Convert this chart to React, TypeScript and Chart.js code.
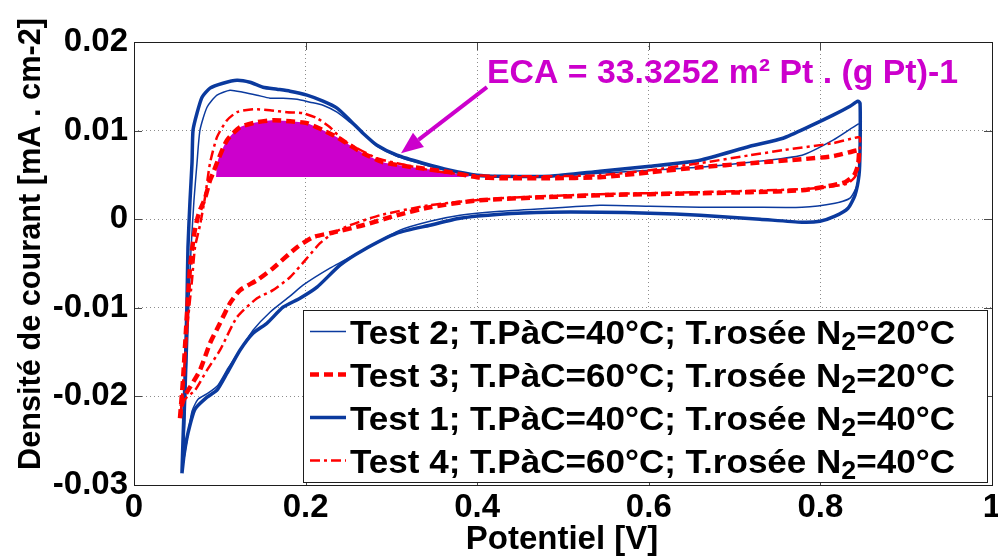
import React, { useEffect, useRef } from 'react';
import { Chart, registerables } from 'chart.js';

Chart.register(...registerables);

// ---------- data (Potentiel [V], Densité de courant [mA . cm-2]) ----------
const xTicks = [0, 0.2, 0.4, 0.6, 0.8, 1];
const yTicks = [-0.03, -0.02, -0.01, 0, 0.01, 0.02];

// Test 1 (thick blue) closed loop: anodic sweep then cathodic sweep
const test1X = [
  0.0559, 0.0571, 0.0594, 0.0618, 0.0629, 0.0653, 0.0676, 0.0688, 0.0734, 0.0793, 0.0886, 0.1037, 0.12, 0.1352,
  0.1503, 0.1667, 0.1818, 0.2016, 0.2203, 0.2366, 0.2517, 0.2669, 0.2832, 0.3065, 0.3368, 0.3683, 0.3998, 0.4266,
  0.4848, 0.5431, 0.6014, 0.6597, 0.7179, 0.7564, 0.7879, 0.8147, 0.8345, 0.8438,
  0.8462, 0.8462, 0.845, 0.8403, 0.8322, 0.817, 0.7995, 0.7786, 0.7296, 0.6597, 0.6014, 0.5431, 0.4848, 0.4266,
  0.38, 0.345, 0.3065, 0.2669, 0.2401, 0.2133, 0.1935, 0.1737, 0.155, 0.1387, 0.1235, 0.1084, 0.0967, 0.0851,
  0.0711, 0.0629, 0.0583, 0.0559,
];
const test1Y = [
  -0.02867, -0.02494, -0.01817, -0.00914, -0.00316, 0.00214, 0.00632, 0.01005, 0.01196, 0.01377, 0.01479, 0.01535,
  0.01569, 0.01546, 0.0149, 0.01467, 0.01445, 0.014, 0.01332, 0.01253, 0.01117, 0.00971, 0.00835, 0.00722, 0.00632,
  0.00553, 0.00497, 0.00485, 0.00485, 0.00542, 0.00598, 0.00666, 0.00824, 0.00914, 0.0105, 0.01174, 0.01275, 0.01332,
  0.01309, 0.00779, 0.00497, 0.00271, 0.00124, 0.00034, -0.00023, -0.00034, 0, 0.00045, 0.00068, 0.00079, 0.00079,
  0.00056, 0.00011, -0.00068, -0.00158, -0.0035, -0.00519, -0.00767, -0.00892, -0.00993, -0.01174, -0.01287,
  -0.01479, -0.01738, -0.0193, -0.02009, -0.02144, -0.02415, -0.02664, -0.02867,
];

// Test 2 (thin blue)
const test2X = [
  0.0571, 0.0594, 0.0618, 0.0641, 0.0664, 0.0699, 0.0734, 0.0769, 0.0851, 0.0967, 0.1119, 0.127, 0.1434, 0.1585,
  0.1737, 0.19, 0.2051, 0.2203, 0.2366, 0.2517, 0.2669, 0.2832, 0.3065, 0.3368, 0.3683, 0.3998, 0.4266, 0.4848,
  0.5431, 0.6014, 0.6597, 0.7179, 0.7786, 0.8147, 0.8438,
  0.8462, 0.8462, 0.8427, 0.8345, 0.817, 0.7786, 0.7179, 0.6597, 0.6014, 0.5431, 0.4848, 0.4266, 0.38, 0.345,
  0.31, 0.2669, 0.2284, 0.197, 0.1818, 0.1585, 0.1387, 0.1235, 0.1096, 0.0979, 0.0862, 0.0746, 0.0676, 0.0618,
  0.0571,
];
const test2Y = [
  -0.02777, -0.02269, -0.01591, -0.00914, -0.0035, 0.00214, 0.00632, 0.01005, 0.01264, 0.014, 0.01456, 0.01433,
  0.014, 0.01366, 0.01366, 0.01354, 0.01321, 0.01287, 0.01208, 0.01095, 0.00971, 0.00824, 0.00711, 0.00621,
  0.00542, 0.00497, 0.00485, 0.00485, 0.00519, 0.00553, 0.00587, 0.00643, 0.00722, 0.00892, 0.01072,
  0.01072, 0.00666, 0.00384, 0.00237, 0.00181, 0.00135, 0.00135, 0.00135, 0.00147, 0.00158, 0.00124, 0.0009,
  0.00045, -0.00023, -0.00124, -0.0035, -0.00553, -0.00745, -0.00869, -0.0105, -0.01253, -0.01479, -0.01682,
  -0.01874, -0.01964, -0.02032, -0.02167, -0.02494, -0.02777,
];

// Test 3 (thick red dashed)
const test3X = [
  0.0536, 0.0571, 0.0606, 0.0653, 0.0699, 0.0734, 0.0769, 0.0828, 0.0886, 0.0921, 0.0979, 0.1084, 0.1235, 0.1434,
  0.162, 0.1818, 0.2016, 0.2203, 0.2366, 0.2517, 0.2669, 0.2902, 0.3252, 0.3683, 0.3998, 0.4266, 0.4848, 0.5431,
  0.6014, 0.6597, 0.7179, 0.7786, 0.8147, 0.8438,
  0.845, 0.8438, 0.8392, 0.8287, 0.8147, 0.7786, 0.7179, 0.6597, 0.5431, 0.4033, 0.345, 0.3065, 0.2669, 0.2284,
  0.2086, 0.19, 0.162, 0.1434, 0.1235, 0.1119, 0.1002, 0.0886, 0.0769, 0.0653, 0.0571, 0.0536,
];
const test3Y = [
  -0.02246, -0.01817, -0.01253, -0.00542, -0.00181, -0.00011, 0.00102, 0.00237, 0.0044, 0.00519, 0.00666, 0.00892,
  0.01038, 0.01095, 0.01117, 0.01106, 0.01084, 0.01005, 0.00926, 0.00835, 0.00745, 0.00643, 0.00587, 0.0053,
  0.00474, 0.00463, 0.00463, 0.00474, 0.0053, 0.00587, 0.00632, 0.00677, 0.00711, 0.00779,
  0.00756, 0.00609, 0.00497, 0.00418, 0.00384, 0.00327, 0.00305, 0.00293, 0.00271, 0.00214, 0.00135, 0.00045,
  -0.00068, -0.00158, -0.00203, -0.00316, -0.00553, -0.00688, -0.00801, -0.00948, -0.01174, -0.014, -0.01704,
  -0.01896, -0.02032, -0.02246,
];

// Test 4 (red dash-dot)
const test4X = [
  0.0548, 0.0583, 0.0629, 0.0676, 0.0711, 0.0769, 0.0828, 0.0886, 0.0967, 0.1084, 0.12, 0.1387, 0.1585, 0.1783,
  0.197, 0.2133, 0.2284, 0.2436, 0.2599, 0.2832, 0.3065, 0.345, 0.38, 0.4266, 0.4848, 0.5431, 0.6014, 0.6597,
  0.7179, 0.7564, 0.8147, 0.8438,
  0.8462, 0.845, 0.8415, 0.8322, 0.8147, 0.7786, 0.6597, 0.5431, 0.4266, 0.345, 0.2867, 0.2517, 0.2319, 0.2168,
  0.2016, 0.1818, 0.162, 0.1434, 0.12, 0.1002, 0.0851, 0.0711, 0.0594, 0.0548,
];
const test4Y = [
  -0.02156, -0.01704, -0.0114, -0.00688, -0.00316, -0.00068, 0.00248, 0.00632, 0.00926, 0.01117, 0.01208, 0.01242,
  0.0123, 0.01208, 0.01196, 0.0114, 0.01038, 0.00892, 0.00801, 0.00688, 0.00632, 0.00553, 0.00508, 0.00485,
  0.00485, 0.00497, 0.00553, 0.00632, 0.00722, 0.00779, 0.00858, 0.00926,
  0.00914, 0.00666, 0.00497, 0.00406, 0.00372, 0.00339, 0.00305, 0.00282, 0.00237, 0.00158, 0.00045, -0.00068,
  -0.00158, -0.00271, -0.0044, -0.00655, -0.00801, -0.00892, -0.01106, -0.01479, -0.01704, -0.0193, -0.02032,
  -0.02156,
];

// ECA shaded area (Test 3 anodic peak above the baseline)
const ecaBaseline = 0.00477;
const ecaX = [0.0956, 0.0979, 0.1084, 0.1235, 0.1434, 0.162, 0.1818, 0.2016, 0.2203, 0.2366, 0.2517, 0.2669, 0.2902, 0.3252, 0.3683, 0.3916];
const ecaY = [0.00477, 0.00666, 0.00892, 0.01038, 0.01095, 0.01117, 0.01106, 0.01084, 0.01005, 0.00926, 0.00835, 0.00745, 0.00643, 0.00587, 0.0053, 0.00477];

const ecaLabel = 'ECA = 33.3252 m² Pt . (g Pt)-1';
const ecaLabelAt = { x: 0.4114, y: 0.01535 };
const arrowTail = { x: 0.4114, y: 0.0149 };
const arrowTip = { x: 0.3112, y: 0.00745 };

const legendLabels = [
  'Test 2; T.PàC=40°C; T.rosée N_2=20°C',
  'Test 3; T.PàC=60°C; T.rosée N_2=20°C',
  'Test 1; T.PàC=40°C; T.rosée N_2=40°C',
  'Test 4; T.PàC=60°C; T.rosée N_2=40°C',
];

const xTitle = 'Potentiel [V]';
const yTitle = 'Densité de courant [mA . cm-2]';

// ---------- styles ----------
const BLUE = '#0b3a9e';
const RED = '#ff0000';
const MAGENTA = '#cc00cc';
const FONT = "'Liberation Sans', Arial, sans-serif";

type Style = { color: string; width: number; dash: number[] };
const styleTest1: Style = { color: BLUE, width: 3.5, dash: [] };
const styleTest2: Style = { color: BLUE, width: 1.5, dash: [] };
const styleTest3: Style = { color: RED, width: 4.5, dash: [9, 5] };
const styleTest4: Style = { color: RED, width: 2.5, dash: [10, 4, 3, 4] };
const legendStyles = [styleTest2, styleTest3, styleTest1, styleTest4];

const toPts = (xs: number[], ys: number[]) => xs.map((x, i) => ({ x, y: ys[i] }));

const lineDs = (label: string, xs: number[], ys: number[], s: Style, order: number) => ({
  label,
  data: toPts(xs, ys),
  borderColor: s.color,
  backgroundColor: s.color,
  borderWidth: s.width,
  borderDash: s.dash,
  pointRadius: 0,
  fill: false,
  tension: 0.2,
  order,
});

function drawFitted(ctx: CanvasRenderingContext2D, text: string, x: number, y: number, w: number) {
  const nat = ctx.measureText(text).width;
  const k = w / nat;
  ctx.save();
  ctx.translate(x, y);
  ctx.scale(k, 1);
  ctx.fillText(text, 0, 0);
  ctx.restore();
}

function drawSubLabel(ctx: CanvasRenderingContext2D, label: string, x: number, y: number, w: number, size: number) {
  const [pre, rest] = label.split('_');
  const sub = rest.charAt(0);
  const post = rest.slice(1);
  const main = `bold ${size}px ${FONT}`;
  const small = `bold ${Math.round(size * 0.76)}px ${FONT}`;
  ctx.font = main;
  const w1 = ctx.measureText(pre).width;
  const w3 = ctx.measureText(post).width;
  ctx.font = small;
  const w2 = ctx.measureText(sub).width;
  const k = w / (w1 + w2 + w3);
  ctx.save();
  ctx.translate(x, y);
  ctx.scale(k, 1);
  ctx.textAlign = 'left';
  ctx.textBaseline = 'alphabetic';
  ctx.font = main;
  ctx.fillText(pre, 0, 0);
  ctx.font = small;
  ctx.fillText(sub, w1, 6);
  ctx.font = main;
  ctx.fillText(post, w1 + w2, 0);
  ctx.restore();
}

const overlay = {
  id: 'overlay',
  afterDatasetsDraw(chart: any) {
    const { ctx, chartArea: a, scales } = chart;
    const xs = scales.x;
    const ys = scales.y;
    ctx.save();

    // inner tick marks
    ctx.strokeStyle = '#4a4a4a';
    ctx.lineWidth = 1;
    ctx.setLineDash([]);
    ctx.beginPath();
    xTicks.forEach((v) => {
      const px = Math.round(xs.getPixelForValue(v)) + 0.5;
      ctx.moveTo(px, a.top);
      ctx.lineTo(px, a.top + 8);
      ctx.moveTo(px, a.bottom);
      ctx.lineTo(px, a.bottom - 8);
    });
    yTicks.forEach((v) => {
      const py = Math.round(ys.getPixelForValue(v)) + 0.5;
      ctx.moveTo(a.left, py);
      ctx.lineTo(a.left + 8, py);
      ctx.moveTo(a.right, py);
      ctx.lineTo(a.right - 8, py);
    });
    ctx.stroke();

    // frame
    ctx.strokeStyle = '#1e1e1e';
    ctx.strokeRect(Math.round(a.left) + 0.5, Math.round(a.top) + 0.5, Math.round(a.right - a.left), Math.round(a.bottom - a.top));

    // ECA arrow
    const tx = xs.getPixelForValue(arrowTail.x);
    const ty = ys.getPixelForValue(arrowTail.y);
    const hx = xs.getPixelForValue(arrowTip.x);
    const hy = ys.getPixelForValue(arrowTip.y);
    const ang = Math.atan2(hy - ty, hx - tx);
    const headLen = 22;
    const headHalf = 9;
    const bx = hx - headLen * Math.cos(ang);
    const by = hy - headLen * Math.sin(ang);
    ctx.strokeStyle = MAGENTA;
    ctx.fillStyle = MAGENTA;
    ctx.lineWidth = 4;
    ctx.beginPath();
    ctx.moveTo(tx, ty);
    ctx.lineTo(bx, by);
    ctx.stroke();
    ctx.beginPath();
    ctx.moveTo(hx, hy);
    ctx.lineTo(bx + headHalf * Math.sin(ang), by - headHalf * Math.cos(ang));
    ctx.lineTo(bx - headHalf * Math.sin(ang), by + headHalf * Math.cos(ang));
    ctx.closePath();
    ctx.fill();

    // ECA label
    ctx.font = `bold 34px ${FONT}`;
    ctx.textAlign = 'left';
    ctx.textBaseline = 'alphabetic';
    drawFitted(ctx, ecaLabel, xs.getPixelForValue(ecaLabelAt.x), ys.getPixelForValue(ecaLabelAt.y), 471);

    // legend
    const L = 303, T = 310, R = 987, B = 482;
    ctx.fillStyle = '#ffffff';
    ctx.fillRect(L, T, R - L, B - T);
    ctx.strokeStyle = '#1e1e1e';
    ctx.lineWidth = 1;
    ctx.strokeRect(L + 0.5, T + 0.5, R - L, B - T);
    const rowH = (B - T) / legendLabels.length;
    legendLabels.forEach((lab, i) => {
      const cy = T + rowH * (i + 0.5);
      const s = legendStyles[i];
      ctx.strokeStyle = s.color;
      ctx.lineWidth = s.width;
      ctx.setLineDash(s.dash);
      ctx.beginPath();
      ctx.moveTo(310, cy);
      ctx.lineTo(346, cy);
      ctx.stroke();
      ctx.setLineDash([]);
      ctx.fillStyle = '#000000';
      drawSubLabel(ctx, lab, 350, cy + 12, 605, 34);
    });

    // axis titles
    ctx.fillStyle = '#000000';
    ctx.font = `bold 33px ${FONT}`;
    ctx.textAlign = 'center';
    ctx.textBaseline = 'middle';
    ctx.fillText(xTitle, 562, 540);

    ctx.save();
    ctx.translate(31, 244);
    ctx.rotate(-Math.PI / 2);
    ctx.font = `bold 31px ${FONT}`;
    ctx.textAlign = 'left';
    const w = 452;
    drawFitted(ctx, yTitle, -w / 2, 0, w);
    ctx.restore();

    ctx.restore();
  },
};

export default function App() {
  const ref = useRef<HTMLCanvasElement | null>(null);
  useEffect(() => {
    if (!ref.current) return;
    const fmt = (v: number) => String(Number(Number(v).toFixed(2)));
    const chart = new Chart(ref.current, {
      type: 'line',
      data: {
        datasets: [
          lineDs('Test 3', test3X, test3Y, styleTest3, 1),
          lineDs('Test 4', test4X, test4Y, styleTest4, 2),
          lineDs('Test 2', test2X, test2Y, styleTest2, 3),
          lineDs('Test 1', test1X, test1Y, styleTest1, 4),
          {
            label: 'ECA',
            data: toPts(ecaX, ecaY),
            borderColor: 'rgba(0,0,0,0)',
            backgroundColor: MAGENTA,
            borderWidth: 0,
            pointRadius: 0,
            tension: 0.2,
            fill: { value: ecaBaseline },
            order: 10,
          } as any,
        ],
      },
      options: {
        responsive: false,
        animation: false,
        devicePixelRatio: 1,
        layout: { autoPadding: false, padding: { left: 0, right: 6, top: 42, bottom: 0 } },
        plugins: { legend: { display: false }, tooltip: { enabled: false } },
        events: [],
        scales: {
          x: {
            type: 'linear',
            min: 0,
            max: 1,
            afterBuildTicks: (s: any) => { s.ticks = xTicks.map((v) => ({ value: v })); },
            afterFit: (s: any) => { s.height = 74; s.paddingLeft = 0; s.paddingRight = 0; },
            grid: { color: '#8c8c8c', lineWidth: 1, drawTicks: false },
            border: { display: false, dash: [1, 3] },
            ticks: {
              autoSkip: false,
              maxRotation: 0,
              padding: 3,
              color: '#000000',
              font: { family: FONT, size: 33, weight: 'bold' },
              callback: (v: any) => fmt(v),
            },
          },
          y: {
            type: 'linear',
            min: -0.03,
            max: 0.02,
            afterBuildTicks: (s: any) => { s.ticks = yTicks.map((v) => ({ value: v })); },
            afterFit: (s: any) => { s.width = 134; s.paddingTop = 0; s.paddingBottom = 0; },
            grid: { color: '#8c8c8c', lineWidth: 1, drawTicks: false },
            border: { display: false, dash: [1, 3] },
            ticks: {
              autoSkip: false,
              padding: 6,
              color: '#000000',
              font: { family: FONT, size: 33, weight: 'bold' },
              callback: (v: any) => fmt(v),
            },
          },
        },
      } as any,
      plugins: [overlay],
    });
    return () => chart.destroy();
  }, []);
  return (
    <div style={{ position: 'fixed', left: 0, top: 0, width: 998, height: 559, background: '#ffffff' }}>
      <canvas ref={ref} width={998} height={559} />
    </div>
  );
}
